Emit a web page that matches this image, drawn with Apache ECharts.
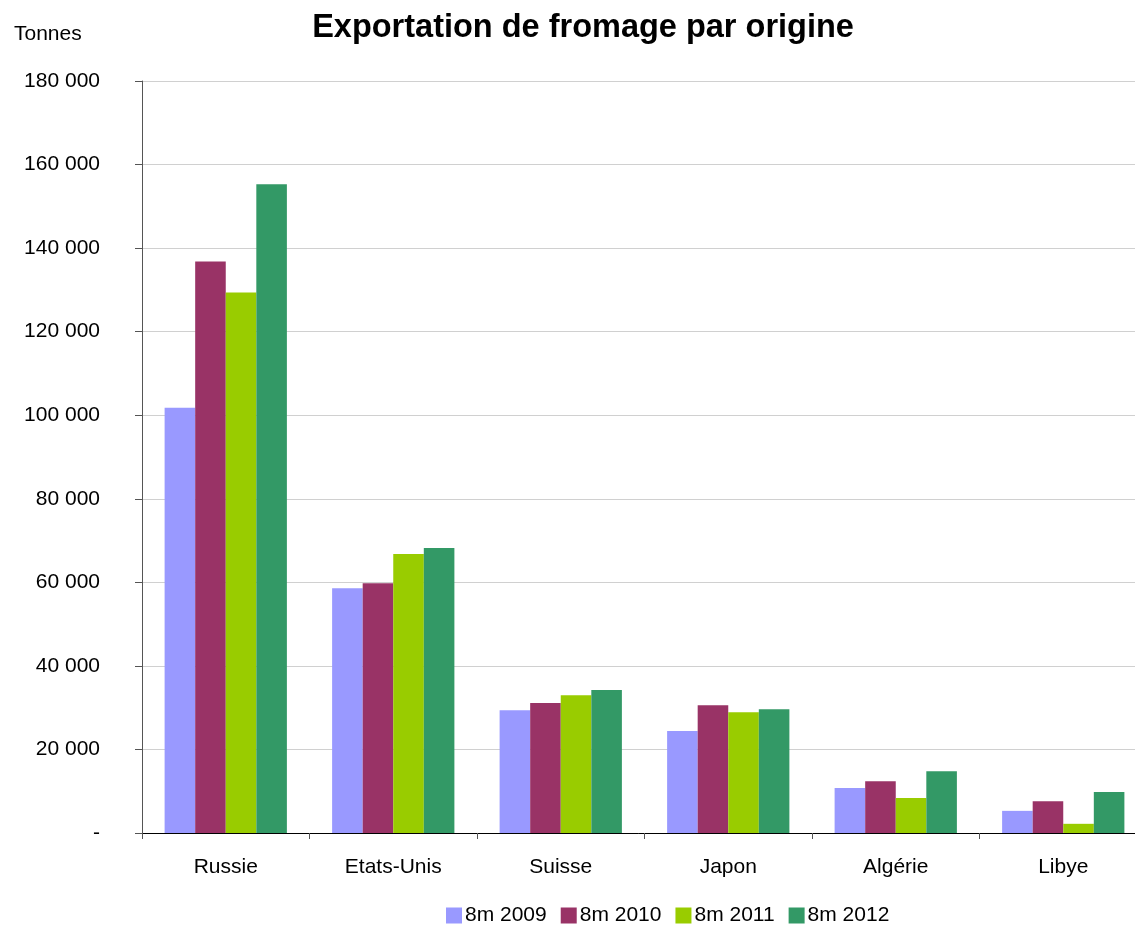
<!DOCTYPE html>
<html><head><meta charset="utf-8">
<script src="https://cdn.jsdelivr.net/npm/echarts@6/dist/echarts.min.js"></script>
<style>html,body{margin:0;padding:0;background:#fff}#c{width:1135px;height:925px}</style>
</head><body><div id="c"></div>
<script>
const categories = ['Russie', 'Etats-Unis', 'Suisse', 'Japon', 'Algérie', 'Libye'];
const seriesNames = ['8m 2009', '8m 2010', '8m 2011', '8m 2012'];
const s2009 = [101800, 58600, 29400, 24400, 10800, 5300];
const s2010 = [136800, 59800, 31100, 30600, 12400, 7600];
const s2011 = [129400, 66800, 33000, 28900, 8400, 2200];
const s2012 = [155300, 68200, 34200, 29600, 14800, 9800];
const colors = ['#9999FF', '#993366', '#99CC00', '#339966'];
const yMin = 0, yMax = 180000, yStep = 20000;

const font = 'Liberation Sans, Arial, sans-serif';
const chart = echarts.init(document.getElementById('c'));
const data = [s2009, s2010, s2011, s2012];
chart.setOption({
  animation: false,
  title: {
    text: 'Exportation de fromage par origine',
    left: 578, top: 7, textAlign: 'center',
    textStyle: {fontFamily: font, fontSize: 32.5, fontWeight: 'bold', color: '#000'}
  },
  graphic: [{type: 'text', left: 14, top: 24, style: {text: 'Tonnes', fontFamily: font, fontSize: 21, fill: '#000'}}],
  legend: {
    top: 905, left: 446, padding: 0, itemWidth: 16, itemHeight: 16, itemGap: 14,
    icon: 'rect',
    textStyle: {fontFamily: font, fontSize: 21, color: '#000', padding: [0, 0, 0, -2]},
    data: seriesNames
  },
  grid: {left: 142, width: 1005, top: 81, height: 752, containLabel: false, outerBoundsMode: 'none'},
  xAxis: {
    type: 'category', data: categories,
    axisLine: {lineStyle: {color: '#000', width: 1}},
    axisTick: {show: true, length: 6, lineStyle: {color: '#555'}},
    axisLabel: {fontFamily: font, fontSize: 21, color: '#000', margin: 24}
  },
  yAxis: {
    type: 'value', min: yMin, max: yMax, interval: yStep,
    axisLine: {show: true, lineStyle: {color: '#555'}},
    axisTick: {show: true, length: 7, lineStyle: {color: '#555'}},
    splitLine: {lineStyle: {color: '#d0d0d0'}},
    axisLabel: {
      fontFamily: font, fontSize: 21, color: '#000', margin: 42,
      formatter: v => v === 0 ? '-' : String(v).replace(/\B(?=(\d{3})+(?!\d))/g, ' ')
    }
  },
  series: seriesNames.map((n, i) => ({
    name: n, type: 'bar', data: data[i], barGap: '0%', barCategoryGap: '27%',
    itemStyle: {color: colors[i]}
  }))
});
</script></body></html>
